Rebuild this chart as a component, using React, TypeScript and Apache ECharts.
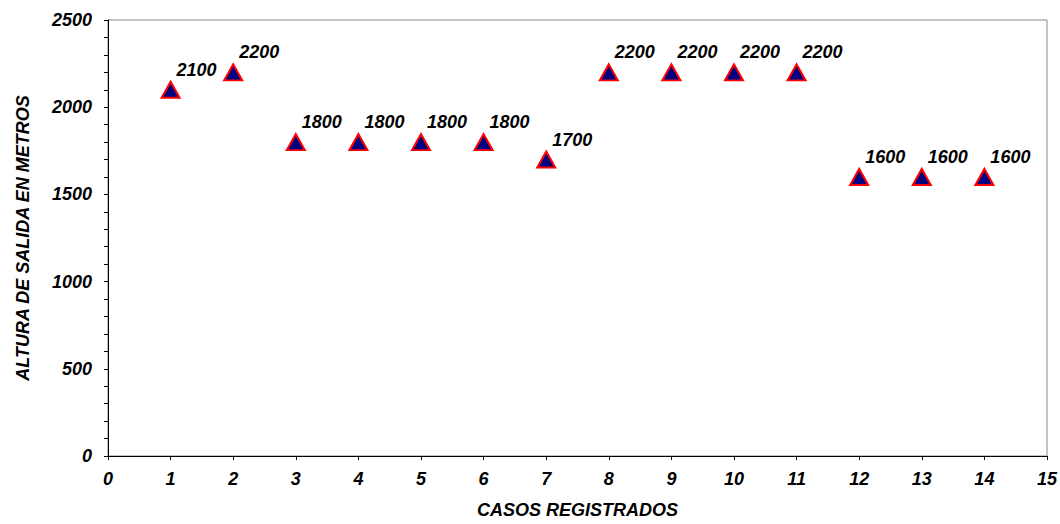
import React, { useEffect, useRef } from "react";
import * as echarts from "echarts";

const casos: number[] = [1, 2, 3, 4, 5, 6, 7, 8, 9, 10, 11, 12, 13, 14];
const alturas: number[] = [2100, 2200, 1800, 1800, 1800, 1800, 1700, 2200, 2200, 2200, 2200, 1600, 1600, 1600];
const xTitle = "CASOS REGISTRADOS";
const yTitle = "ALTURA DE SALIDA EN METROS";

const FONT = "'Liberation Sans', Arial, sans-serif";

export default function App() {
  const ref = useRef<HTMLDivElement>(null);
  useEffect(() => {
    if (!ref.current) return;
    const chart = echarts.init(ref.current, undefined, { renderer: "svg" });
    const txt = { fontFamily: FONT, fontWeight: "bold" as const, fontStyle: "italic" as const, color: "#000", fontSize: 18 };
    chart.setOption({
      animation: false,
      backgroundColor: "#fff",
      grid: { left: 108, right: 12, top: 20, bottom: 63, show: true, borderColor: "#888", borderWidth: 1, backgroundColor: "transparent" },
      xAxis: {
        type: "value",
        min: 0,
        max: 15,
        interval: 1,
        name: xTitle,
        nameLocation: "middle",
        nameGap: 45,
        nameTextStyle: { ...txt },
        axisLine: { show: true, lineStyle: { color: "#000", width: 1 } },
        axisTick: { show: true, inside: false, length: 4, lineStyle: { color: "#000" } },
        axisLabel: { ...txt, margin: 14 },
        splitLine: { show: false },
      },
      yAxis: {
        type: "value",
        min: 0,
        max: 2500,
        interval: 500,
        name: yTitle,
        nameLocation: "middle",
        nameGap: 76,
        nameRotate: 90,
        nameTextStyle: { ...txt },
        axisLine: { show: true, lineStyle: { color: "#000", width: 1 } },
        axisTick: { show: true, inside: false, length: 4, lineStyle: { color: "#000" } },
        minorTick: { show: true, splitNumber: 5, length: 4, lineStyle: { color: "#000" } },
        axisLabel: { ...txt, margin: 16, formatter: (v: number) => String(v) },
        splitLine: { show: false },
      },
      series: [
        {
          type: "scatter",
          data: casos.map((c, i) => [c, alturas[i]]),
          symbol: "triangle",
          symbolSize: [18, 16],
          itemStyle: { color: "#000080", borderColor: "#ff0000", borderWidth: 2, opacity: 1 },
          emphasis: { disabled: true },
          label: {
            show: true,
            position: "inside",
            offset: [26, -20],
            formatter: (p: any) => String(p.value[1]),
            ...txt,
            color: "#000",
            opacity: 1,
          },
        },
      ],
    });
    return () => chart.dispose();
  }, []);
  return (
    <div style={{ position: "fixed", left: 0, top: 0, width: 1060, height: 524, background: "#fff" }}>
      <div ref={ref} style={{ width: 1060, height: 524 }} />
    </div>
  );
}
